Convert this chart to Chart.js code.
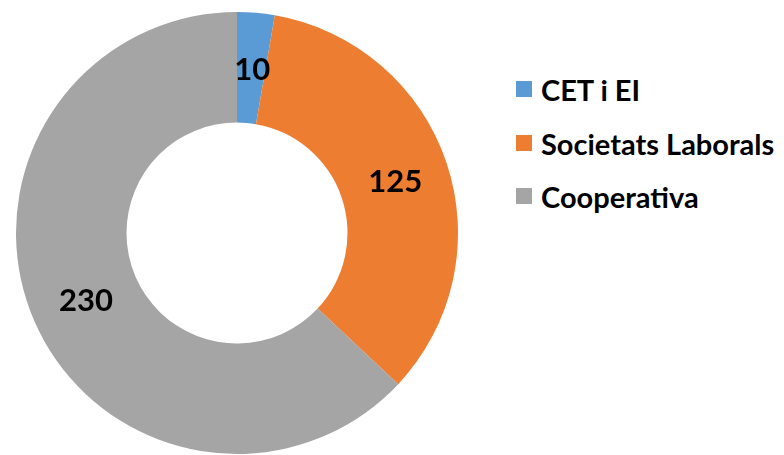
<!DOCTYPE html>
<html>
<head>
<meta charset="utf-8">
<script src="https://cdn.jsdelivr.net/npm/chart.js@4"></script>
<style>
  html, body { margin: 0; padding: 0; background: #fff; }
  #wrap { position: relative; width: 784px; height: 455px; overflow: hidden; }
  #chartBox { position: absolute; left: 0; top: 0; width: 474px; height: 455px; }
  .llegenda { position: absolute; left: 516px; font: bold 29px Lato, sans-serif; color: #000; }
  .llegenda .item { position: absolute; left: 0; height: 30px; display: flex; align-items: center; white-space: nowrap; }
  .llegenda .caixa { width: 16px; height: 16px; margin-right: 9px; }
</style>
</head>
<body>
<div id="wrap">
  <div id="chartBox"><canvas id="donut"></canvas></div>
  <div class="llegenda" id="llegenda"></div>
</div>
<script>
// dades del grafic
const categories = ['CET i EI', 'Societats Laborals', 'Cooperativa'];
const valors = [10, 125, 230];
const colors = ['#5B9BD5', '#ED7D31', '#A5A5A5'];

// etiquetes amb el valor al centre de cada tros
const etiquetesValor = {
    id: 'etiquetesValor',
    afterDatasetsDraw(chart) {
        const ctx = chart.ctx;
        const meta = chart.getDatasetMeta(0);
        ctx.save();
        ctx.font = 'bold 31px Lato, sans-serif';
        ctx.fillStyle = '#000';
        ctx.textAlign = 'center';
        ctx.textBaseline = 'middle';
        meta.data.forEach((arc, i) => {
            const p = arc.tooltipPosition();
            ctx.fillText(String(chart.data.datasets[0].data[i]), p.x + 1, p.y + 2);
        });
        ctx.restore();
    }
};

const donut = new Chart(document.getElementById('donut').getContext('2d'), {
    type: 'doughnut',
    data: {
        labels: categories,
        datasets: [{
            data: valors,
            backgroundColor: colors,
            borderWidth: 0
        }]
    },
    options: {
        responsive: true,
        maintainAspectRatio: false,
        animation: false,
        cutout: '50%',
        layout: { padding: { left: 16, right: 16, top: 12, bottom: 1 } },
        plugins: {
            legend: { display: false },
            tooltip: { enabled: false }
        }
    },
    plugins: [etiquetesValor]
});

// llegenda a la dreta
const llegenda = document.getElementById('llegenda');
const filesY = [74, 128, 181];
categories.forEach((cat, i) => {
    llegenda.innerHTML += '<div class="item" style="top:' + filesY[i] + 'px">' +
        '<span class="caixa" style="background:' + colors[i] + '"></span>' + cat + '</div>';
});
</script>
</body>
</html>
